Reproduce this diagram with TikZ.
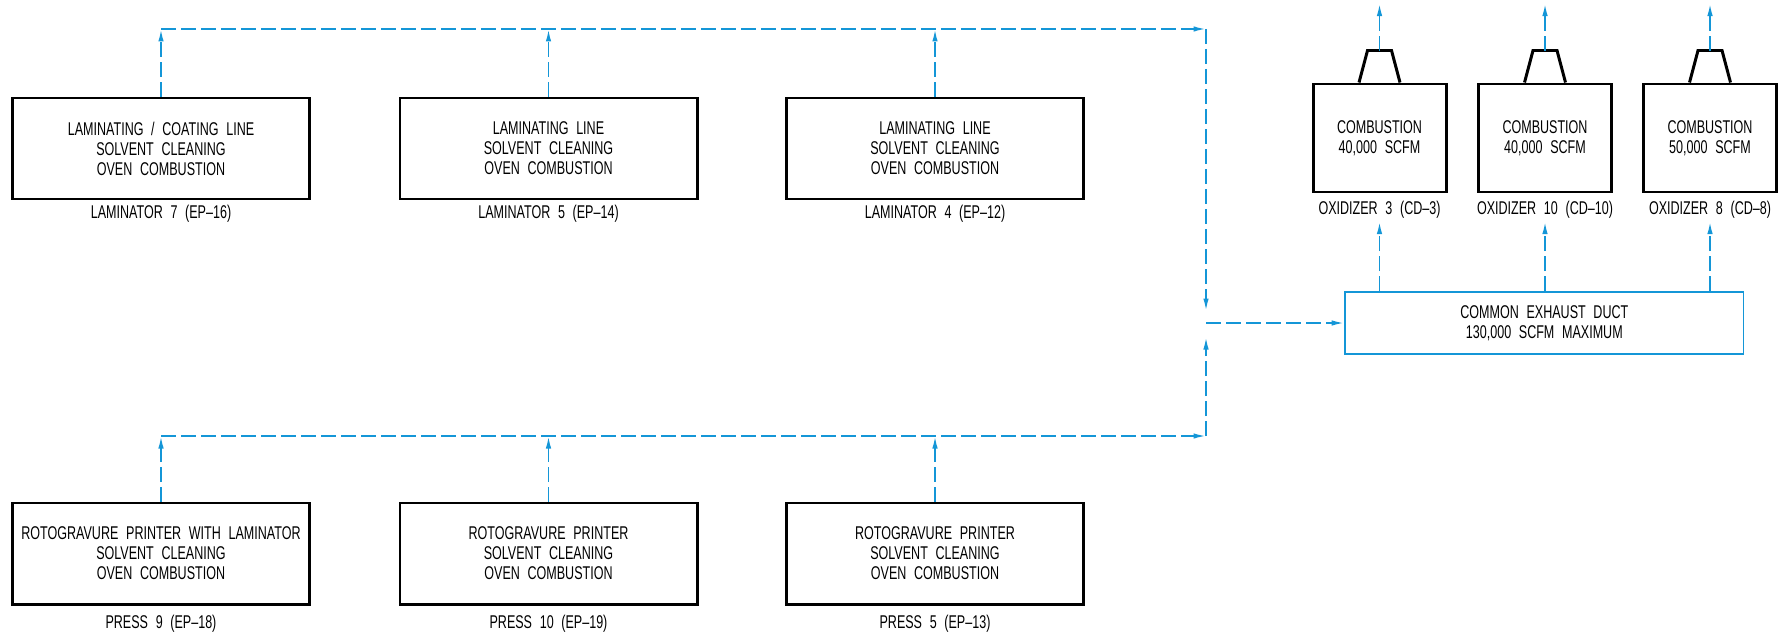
\documentclass[tikz,border=0pt]{standalone}
\usepackage{fontspec}
\setmainfont{Liberation Sans}[FakeStretch=0.68, WordSpace=2.2]
\usetikzlibrary{arrows.meta,calc}
\definecolor{duct}{RGB}{20,150,215}

\begin{document}
\begin{tikzpicture}[x=0.2mm, y=-0.2mm,
  unit/.style={draw, line width=1.7pt, minimum width=59.4mm, minimum height=20.2mm,
              inner sep=0pt, align=center, font=\fontsize{10.5}{11.4}\selectfont},
  oxbox/.style={unit, minimum width=26.6mm, minimum height=21.6mm},
  ductbox/.style={draw=duct, line width=1pt, minimum width=79.7mm, minimum height=12.4mm,
              inner sep=0pt, align=center, font=\fontsize{10.5}{11.4}\selectfont},
  tag/.style={font=\fontsize{10.5}{11.4}\selectfont, inner sep=1.5pt},
  flow/.style={-{Latex[length=2.5mm,width=1.1mm]}, draw=duct, line width=1pt,
              dash pattern=on 3mm off 1mm},
  stack/.style={line width=1.7pt, line join=miter},
]
\useasboundingbox (0,0) rectangle (1788,636);

% Laminators
\node[unit] (lam7) at (161,148.5) {LAMINATING / COATING LINE\\SOLVENT CLEANING\\OVEN COMBUSTION};
\node[unit] (lam5) at (548.5,148.5) {LAMINATING LINE\\SOLVENT CLEANING\\OVEN COMBUSTION};
\node[unit] (lam4) at (935,148.5) {LAMINATING LINE\\SOLVENT CLEANING\\OVEN COMBUSTION};
\node[tag] (lam7lbl) at (161,214) {LAMINATOR 7 (EP--16)};
\node[tag] (lam5lbl) at (548.5,214) {LAMINATOR 5 (EP--14)};
\node[tag] (lam4lbl) at (935,214) {LAMINATOR 4 (EP--12)};

% Presses
\node[unit] (press9) at (161,553.5) {ROTOGRAVURE PRINTER WITH LAMINATOR\\SOLVENT CLEANING\\OVEN COMBUSTION};
\node[unit] (press10) at (548.5,553.5) {ROTOGRAVURE PRINTER\\SOLVENT CLEANING\\OVEN COMBUSTION};
\node[unit] (press5) at (935,553.5) {ROTOGRAVURE PRINTER\\SOLVENT CLEANING\\OVEN COMBUSTION};
\node[tag] (press9lbl) at (161,624) {PRESS 9 (EP--18)};
\node[tag] (press10lbl) at (548.5,624) {PRESS 10 (EP--19)};
\node[tag] (press5lbl) at (935,624) {PRESS 5 (EP--13)};

% Common duct
\node[ductbox] (duct) at (1544.3,323) {COMMON EXHAUST DUCT\\130,000 SCFM MAXIMUM};

% Oxidizers
\node[oxbox] (ox3) at (1379.5,138) {COMBUSTION\\40,000 SCFM};
\node[oxbox] (ox10) at (1545,138) {COMBUSTION\\40,000 SCFM};
\node[oxbox] (ox8) at (1710,138) {COMBUSTION\\50,000 SCFM};
\node[tag] (ox3lbl) at (1379.5,210) {OXIDIZER 3 (CD--3)};
\node[tag] (ox10lbl) at (1545,210) {OXIDIZER 10 (CD--10)};
\node[tag] (ox8lbl) at (1710,210) {OXIDIZER 8 (CD--8)};

% Headers
\coordinate (topL) at (161,29);
\coordinate (topR) at (1206,29);
\coordinate (botL) at (161,436);
\coordinate (botR) at (1206,436);
\coordinate (jct) at (1206,323);
\coordinate (jctA) at (1206,311);
\coordinate (jctB) at (1206,337);

\foreach \n in {lam7,lam5,lam4}
  \draw[flow] (\n) -- (\n |- topL);
\foreach \n in {press9,press10,press5}
  \draw[flow] (\n) -- (\n |- botL);

\draw[flow] (topL) -- (topR);
\draw[flow] (topR) -- (jctA);
\draw[flow] (botL) -- (botR);
\draw[flow] (botR) -- (jctB);
\draw[flow] (jct) -- (duct);

% Stacks
\foreach \n in {ox3,ox10,ox8} {
  \draw[flow] (duct.north -| \n) -- (\n lbl);
  \draw[stack] ($(\n.north)+(-20.5,0)$) -- ++(8.5,-32) -- ++(24,0) -- ++(8.5,32);
  \coordinate (\n-top) at ($(\n.north)+(0,-32)$);
  \coordinate (\n-out) at ($(\n.north)+(0,-79)$);
  \draw[flow] (\n-top) -- (\n-out);
}

\end{tikzpicture}
\end{document}
